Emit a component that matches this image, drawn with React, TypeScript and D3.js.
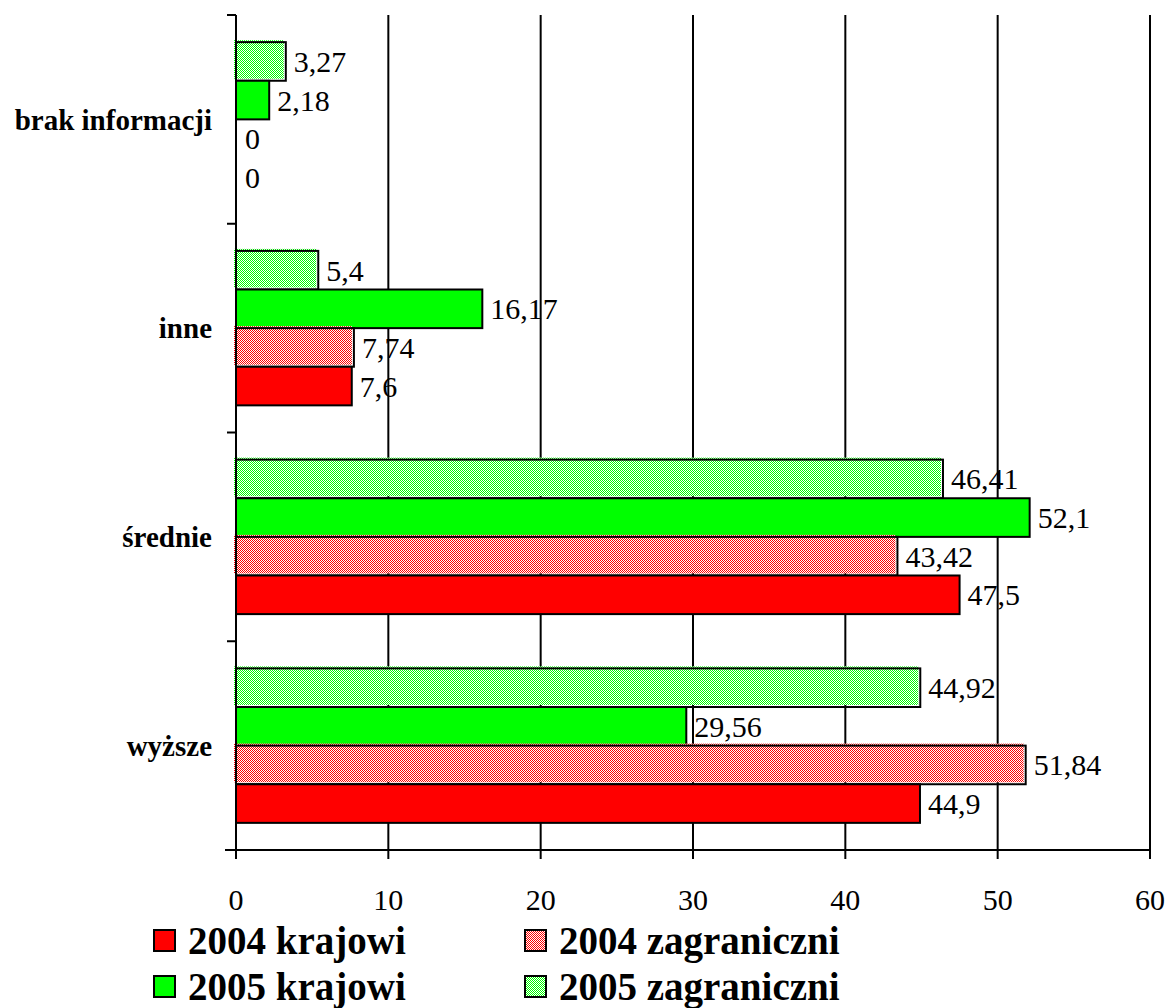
import React from "react";
import * as d3 from "d3";

const categories = ["brak informacji", "inne", "średnie", "wyższe"];
const seriesNames = ["2005 zagraniczni", "2005 krajowi", "2004 zagraniczni", "2004 krajowi"];
const v2005zagr = [3.27, 5.4, 46.41, 44.92];
const v2005kraj = [2.18, 16.17, 52.1, 29.56];
const v2004zagr = [0, 7.74, 43.42, 51.84];
const v2004kraj = [0, 7.6, 47.5, 44.9];
const seriesValues = [v2005zagr, v2005kraj, v2004zagr, v2004kraj];
const seriesColors = ["#00ff00", "#00ff00", "#ff0000", "#ff0000"];
const seriesHatched = [true, false, true, false];
const xTicks = [0, 10, 20, 30, 40, 50, 60];
const legendOrder = [3, 2, 1, 0];

const fmt = (v: number) => String(v).replace(".", ",");

const FONT = "Liberation Serif, DejaVu Serif, Noto Serif, serif";

export default function App() {
  const W = 1170, H = 1008;
  const left = 236, right = 1150, top = 15, bottom = 850;
  const x = d3.scaleLinear().domain([0, 60]).range([left, right]);
  const y = d3.scaleBand<string>().domain(categories).range([top, bottom]).paddingInner(0.26).paddingOuter(0.13);
  const inner = d3.scaleBand<number>().domain([0, 1, 2, 3]).range([0, y.bandwidth()]);
  const bandStep = (bottom - top) / categories.length;
  const yTickPositions = d3.range(categories.length + 1).map((i) => top + i * bandStep);
  const fillFor = (si: number) =>
    seriesHatched[si] ? (seriesColors[si] === "#00ff00" ? "url(#hatch-green)" : "url(#hatch-red)") : seriesColors[si];

  const Box = ({ bx, by, bw, bh, si }: { bx: number; by: number; bw: number; bh: number; si: number }) =>
    seriesHatched[si] ? (
      <g>
        <rect x={bx - 2} y={by - 2} width={bw} height={bh} fill={fillFor(si)} />
        <rect x={bx} y={by} width={bw} height={bh} fill="none" stroke="#000" strokeWidth={2} />
      </g>
    ) : (
      <rect x={bx} y={by} width={bw} height={bh} fill={fillFor(si)} stroke="#000" strokeWidth={2} />
    );

  return (
    <svg width={W} height={H} style={{ position: "absolute", left: 0, top: 0, background: "#fff" }}>
      <defs>
        <pattern id="hatch-green" width="2" height="2" patternUnits="userSpaceOnUse">
          <rect width="2" height="2" fill="#ffffff" />
          <rect width="1" height="1" fill="#00ff00" />
          <rect x="1" y="1" width="1" height="1" fill="#00ff00" />
        </pattern>
        <pattern id="hatch-red" width="2" height="2" patternUnits="userSpaceOnUse">
          <rect width="2" height="2" fill="#ffffff" />
          <rect width="1" height="1" fill="#ff0000" />
          <rect x="1" y="1" width="1" height="1" fill="#ff0000" />
        </pattern>
      </defs>
      <rect width={W} height={H} fill="#fff" />
      {xTicks.slice(1).map((t) => (
        <line key={"g" + t} x1={x(t)} x2={x(t)} y1={top} y2={bottom} stroke="#000" strokeWidth={2} />
      ))}
      {categories.map((c, ci) => (
        <g key={c}>
          {seriesValues.map((vals, si) => {
            const v = vals[ci];
            const by = (y(c) as number) + (inner(si) as number);
            const bh = inner.bandwidth();
            return (
              <g key={si}>
                {v > 0 && <Box bx={x(0)} by={by} bw={x(v) - x(0)} bh={bh} si={si} />}
                <text x={x(v) + (v > 0 ? 8 : 9)} y={by + bh / 2} dy="0.35em" fontSize={30} fill="#000" fontFamily={FONT}>
                  {fmt(v)}
                </text>
              </g>
            );
          })}
          <text x={212} y={(y(c) as number) + y.bandwidth() / 2} dy="0.35em" textAnchor="end" fontSize={29} fontWeight="bold" fill="#000" fontFamily={FONT}>
            {c}
          </text>
        </g>
      ))}
      <line x1={left} x2={left} y1={top} y2={bottom + 9} stroke="#000" strokeWidth={2} />
      {yTickPositions.map((p, i) => (
        <line key={"yt" + i} x1={left - 9} x2={left} y1={p} y2={p} stroke="#000" strokeWidth={2} />
      ))}
      <line x1={225} x2={right} y1={bottom} y2={bottom} stroke="#000" strokeWidth={2} />
      {xTicks.map((t) => (
        <g key={"xt" + t}>
          <line x1={x(t)} x2={x(t)} y1={bottom} y2={bottom + 9} stroke="#000" strokeWidth={2} />
          <text x={x(t)} y={910} textAnchor="middle" fontSize={30} fill="#000" fontFamily={FONT}>{t}</text>
        </g>
      ))}
      {legendOrder.map((si, i) => {
        const col = i % 2;
        const row = Math.floor(i / 2);
        const lx = col === 0 ? 154 : 525;
        const ly = 930 + row * 46;
        return (
          <g key={"lg" + si}>
            <rect x={lx} y={ly} width={21} height={21} fill={fillFor(si)} stroke="#000" strokeWidth={2} />
            <text x={lx + 34} y={ly + 24} fontSize={39} fontWeight="bold" fill="#000" fontFamily={FONT}>
              {seriesNames[si]}
            </text>
          </g>
        );
      })}
    </svg>
  );
}
